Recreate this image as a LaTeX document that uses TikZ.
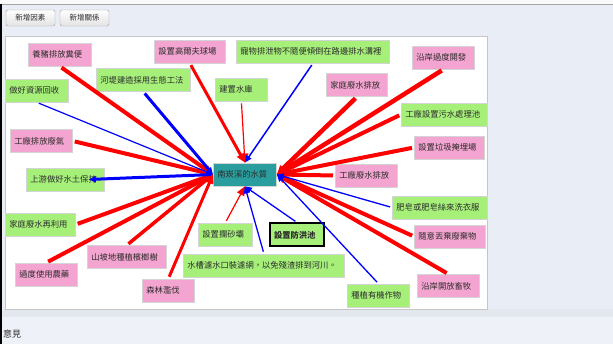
\documentclass[tikz,border=0pt]{standalone}
\usepackage{fontspec}
\newfontfamily\cjk{Noto Sans CJK TC}
\usetikzlibrary{arrows.meta}
\definecolor{badpink}{HTML}{F4A4D0}
\definecolor{goodgreen}{HTML}{A6F07A}
\definecolor{hubteal}{HTML}{2A9E9E}
\definecolor{boxgray}{HTML}{D4D4D4}
\definecolor{panelbg}{HTML}{E9EDF5}
\definecolor{bandbg}{HTML}{E3E7EE}
\definecolor{lowbg}{HTML}{EEF2F8}
\definecolor{inkgray}{HTML}{2B2B2B}

\begin{document}
\begin{tikzpicture}[x=1pt, y=-1pt,
  factor/.style={draw=boxgray, line width=0.8pt, anchor=west, align=left, inner xsep=4pt, inner ysep=0pt,
    minimum height=23pt, text=inkgray, font=\cjk\fontsize{8.3}{10}\selectfont},
  bad/.style={factor, fill=badpink},
  good/.style={factor, fill=goodgreen},
  redlink/.style={red, line width=#1, shorten <=2pt, -{Triangle[length=9pt,width=8pt]}},
  bluelink/.style={blue, line width=#1, shorten <=2pt, -{Triangle[length=7pt,width=6pt]}},
  btn/.style={draw=gray!75, rounded corners=2pt, top color=white, bottom color=gray!22, minimum width=49pt,
    minimum height=16pt, inner sep=0pt, text=inkgray, font=\cjk\fontsize{7.5}{9}\selectfont}]
 \useasboundingbox (0,0) rectangle (613,344);
 % window
 \fill[panelbg] (0,0) rectangle (613,344);
 \fill[white!95!gray] (0,0) rectangle (613,4);
 \draw[gray!70, line width=0.8pt] (0,4.5) -- (613,4.5);
 \fill[bandbg] (0,309) rectangle (613,317);
 \fill[lowbg] (0,317) rectangle (613,344);
 \fill[black] (0,4) rectangle (2,344);
 \filldraw[fill=white, draw=gray!45, line width=0.9pt] (5,36) rectangle (487,309);

 \node[btn] (addfactor) at (30.5,18) {新增因素};
 \node[btn] (addlink) at (84.5,18) {新增關係};
 \node[anchor=west, inner sep=0pt, text=inkgray, font=\cjk\fontsize{9}{11}\selectfont] (opinion) at (3,334) {意見};

 % factors
 \node[bad, text width=55pt] (pig) at (28,54.5) {養豬排放糞便};
 \node[bad, text width=63pt] (golf) at (154,51.5) {設置高爾夫球場};
 \node[good, text width=86pt] (dike) at (96,80) {河堤建造採用生態工法};
 \node[good, text width=55pt] (recyc) at (5,90.5) {做好資源回收};
 \node[good, text width=145pt] (pet) at (236,51.5) {寵物排泄物不隨便傾倒在路邊排水溝裡};
 \node[good, text width=44pt] (dam) at (215,89.5) {建置水庫};
 \node[bad, text width=53pt] (homeout) at (326,85) {家庭廢水排放};
 \node[bad, text width=54pt] (coast) at (412,57.5) {沿岸過度開發};
 \node[good, text width=78pt] (plant) at (401,114.5) {工廠設置污水處理池};
 \node[bad, text width=62pt] (landfill) at (414,147.5) {設置垃圾掩埋場};
 \node[bad, text width=54pt] (gas) at (10,141) {工廠排放廢氣};
 \node[good, text width=70pt] (soil) at (26,179.5) {上游做好水土保持};
 \node[factor, fill=hubteal, text width=55pt] (water) at (213,174.5) {南崁溪的水質};
 \node[bad, text width=54pt] (factout) at (335,175.5) {工廠廢水排放};
 \node[good, text width=87pt] (soap) at (392,207.5) {肥皂或肥皂絲來洗衣服};
 \node[bad, text width=63pt] (dump) at (414,236.5) {隨意丟棄廢棄物};
 \node[good, text width=62pt] (reuse) at (5,224.5) {家庭廢水再利用};
 \node[bad, text width=71pt] (betel) at (87,257) {山坡地種植檳榔樹};
 \node[bad, text width=54pt] (pest) at (15,274.5) {過度使用農藥};
 \node[bad, text width=44pt] (forest) at (142,290.5) {森林濫伐};
 \node[good, text width=46pt] (sand) at (198,234.5) {設置攔砂壩};
 \node[good, draw=black, line width=2pt, text width=46pt, font=\cjk\bfseries\fontsize{8.3}{10}\selectfont] (flood) at (269,235) {設置防洪池};
 \node[good, text width=153pt] (sink) at (183,265.5) {水槽濾水口裝濾網，以免殘渣排到河川。};
 \node[good, text width=54pt] (organic) at (347,295.5) {種植有機作物};
 \node[bad, text width=54pt] (graze) at (417,286) {沿岸開放畜牧};
 \coordinate (soiltip) at ([xshift=-16pt]soil.east);

 % links
 \draw[redlink=4pt] (pig.south) -- (water.west);
 \draw[redlink=3pt] (golf.south) -- (water.north);
 \draw[redlink=1.2pt] (dam.south) -- (water.north);
 \draw[redlink=4pt] (gas.east) -- (water.west);
 \draw[redlink=4pt] (reuse.east) -- (water.west);
 \draw[redlink=4pt] (pest.north) -- (water.west);
 \draw[redlink=3.5pt] (betel.north) -- (water.west);
 \draw[redlink=3pt] (forest.north) -- (water.west);
 \draw[redlink=1.2pt] (sand.north) -- (water.south);
 \draw[redlink=4.5pt] (coast.south) -- (water.east);
 \draw[redlink=4.5pt] (homeout.south) -- (water.east);
 \draw[redlink=4pt] (plant.west) -- (water.east);
 \draw[redlink=4pt] (landfill.west) -- (water.east);
 \draw[redlink=4pt] (factout.west) -- (water.east);
 \draw[redlink=4pt] (dump.west) -- (water.east);
 \draw[redlink=4pt] (graze.north) -- (water.east);

 \draw[bluelink=3pt] (dike.south) -- (water.west);
 \draw[bluelink=1.2pt] (recyc.south) -- (water.west);
 \draw[bluelink=3pt] (water.west) -- (soiltip);
 \draw[bluelink=1.5pt] (pet.south) -- (water.north);
 \draw[bluelink=1.3pt] (flood.north) -- (water.south);
 \draw[bluelink=1.3pt] (sink.north) -- (water.south);
 \draw[bluelink=1.3pt] (organic.north) -- (water.east);
 \draw[bluelink=1.3pt] (soap.west) -- (water.east);
\end{tikzpicture}
\end{document}
